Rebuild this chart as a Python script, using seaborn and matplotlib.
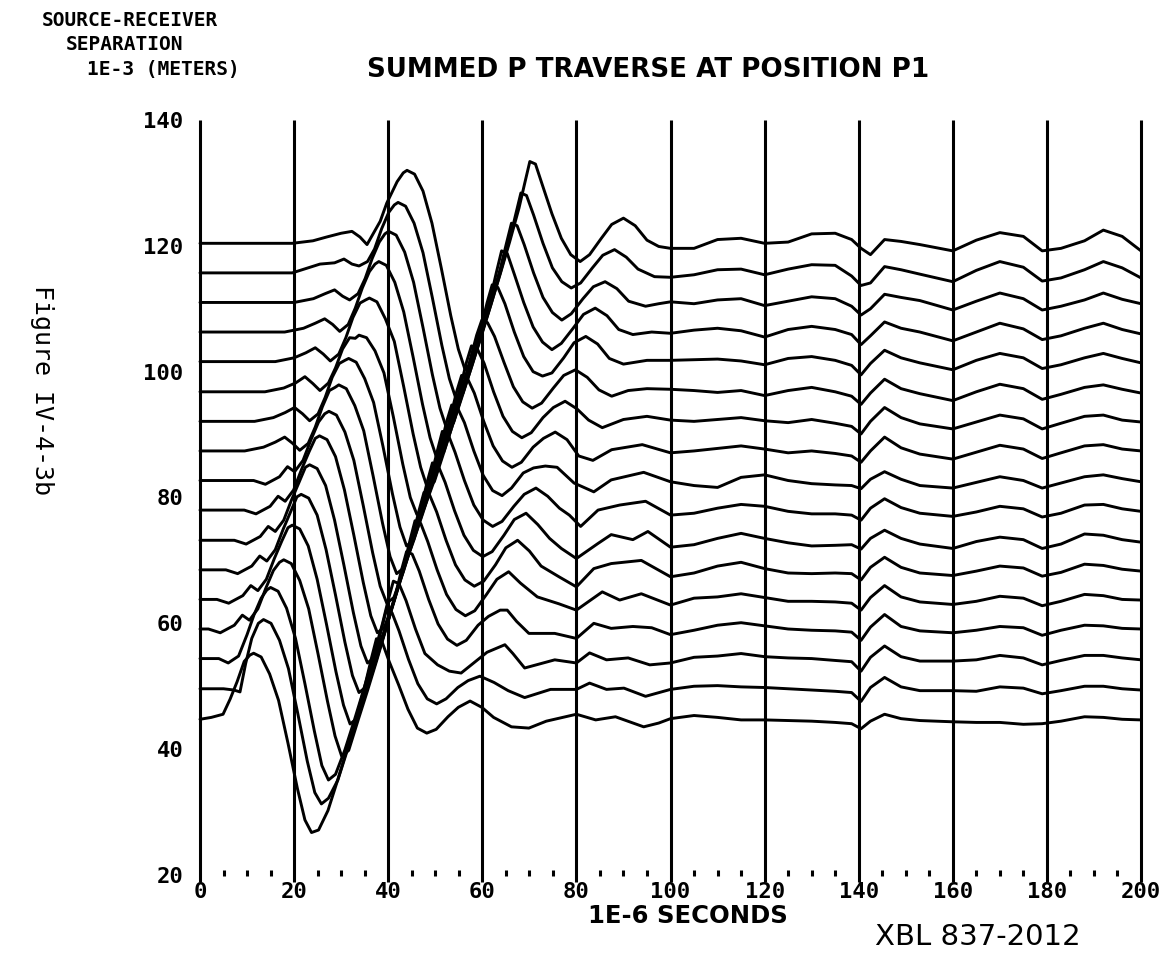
import numpy as np
import pandas as pd
import seaborn as sns
import matplotlib.pyplot as plt

# ---------------- data ----------------
separations = [44.75, 49.6, 54.4, 59.1, 63.8, 68.5, 73.2, 78.0, 82.7,
               87.4, 92.1, 96.8, 101.6, 106.3, 111.0, 115.7, 120.4]

# early part of every trace: (time in 1E-6 s, deflection from its separation line)
trace_01 = [(0,0),(2.4,0.3),(4.9,0.8),(6.4,3.2),(7.9,6.0),(9.4,9.2),(10.6,10.2),(11.4,10.5),(13.0,9.9),(14.8,7.2),(16.7,3.0),(18.7,-3.8),(20.7,-11.0),(22.3,-16.0),(23.7,-18.0),(25.2,-17.6),(27.2,-14.5),(29.2,-9.8),(31.2,-4.9),(33.2,0.2),(35.2,5.8),(36.4,9.6),(37.5,12.8),(38.7,12.3),(40.2,9.2),(42.2,5.5),(44.2,1.6),(46.2,-1.4),(48.2,-2.2),(50.2,-1.6),(52.7,0.4),(54.9,1.9),(57.4,2.9),(59.9,1.9),(62.4,0.3),(66.2,-1.2),(69.9,-1.4),(73.6,-0.3),(80.0,0.8),(84.1,-0.1),(88.3,0.4),(94.3,-1.2),(97.5,-0.6)]
trace_02 = [(0,0),(5,0),(7.2,-0.2),(8.5,-0.5),(9.7,4.0),(11.0,8.0),(12.4,10.4),(13.5,11.0),(15.1,10.4),(16.9,7.7),(18.8,3.2),(20.8,-4.0),(22.8,-11.5),(24.4,-16.5),(25.8,-18.3),(27.3,-17.4),(29.3,-14.5),(31.3,-9.8),(33.3,-4.9),(35.3,0.2),(37.3,5.6),(38.5,9.3),(39.6,12.5),(40.8,12.1),(42.3,9.2),(44.3,4.7),(46.3,0.8),(48.3,-1.6),(50.3,-2.4),(52.3,-1.6),(54.8,0.2),(57.0,1.3),(59.5,2.0),(62.5,1.0),(65.5,-0.3),(69.0,-1.4),(74.5,-0.1),(80.0,-0.1),(82.8,0.9),(86.4,-0.1),(90.1,0.1),(94.7,-1.2)]
trace_03 = [(0,0),(4,0),(6.0,-0.7),(8.2,0.4),(10.0,3.8),(11.5,7.0),(13.0,9.6),(14.2,10.9),(15.0,11.3),(16.6,10.7),(18.4,8.0),(20.3,3.2),(22.3,-4.0),(24.3,-11.5),(25.9,-17.0),(27.3,-19.3),(28.8,-18.4),(30.8,-14.5),(32.8,-9.8),(34.8,-4.9),(36.8,0.2),(38.8,5.6),(40.0,9.3),(41.1,12.3),(42.3,11.9),(43.8,9.2),(45.8,4.7),(47.8,0.8),(50.5,-1.0),(53.0,-2.0),(55.5,-2.3),(58.0,-0.8),(61.0,1.0),(64.8,2.2),(66.5,0.8),(69.0,-1.5),(75.4,-0.2),(80.0,-0.7),(82.8,0.9),(86.4,-0.2),(91.0,0.1),(95.6,-1.0)]
trace_04 = [(0,0),(1.8,0),(4.3,-0.6),(7.3,0.6),(9.0,2.2),(10.5,1.4),(12.3,3.2),(14.0,6.5),(15.6,9.3),(16.9,10.6),(17.8,11.0),(19.4,10.4),(21.2,7.7),(23.1,3.2),(25.1,-4.0),(27.1,-11.5),(28.7,-17.0),(30.1,-20.2),(31.6,-19.3),(33.6,-14.5),(35.6,-9.8),(37.6,-4.9),(39.6,0.2),(41.6,5.6),(42.8,9.3),(43.9,12.3),(45.1,11.9),(46.6,9.2),(48.6,4.7),(50.6,0.8),(52.6,-1.6),(54.6,-2.6),(56.6,-1.8),(59.1,0.6),(61.3,2.0),(63.8,3.0),(65.3,3.0),(67.3,1.2),(69.9,-0.7),(75.4,-0.7),(80.0,-1.5),(83.7,0.9),(87.4,0.1),(92.0,0.4),(96.0,0.2)]
trace_05 = [(0,0),(3.6,0),(6.1,-0.6),(9.1,0.6),(10.8,2.2),(12.3,1.4),(14.1,3.2),(15.8,6.5),(17.4,9.3),(18.7,11.4),(19.6,11.8),(21.2,11.2),(23.0,8.5),(24.9,3.2),(26.9,-4.0),(28.9,-11.5),(30.5,-16.8),(31.9,-19.8),(33.4,-18.9),(35.4,-14.5),(37.4,-9.8),(39.4,-4.9),(41.4,0.2),(43.4,5.6),(44.6,9.3),(45.7,12.5),(46.9,12.1),(48.4,9.2),(50.4,4.7),(52.4,0.8),(54.4,-1.6),(56.4,-2.6),(58.4,-1.8),(60.9,0.8),(63.1,3.2),(65.6,4.4),(68.1,2.6),(71.7,0.4),(76.3,-0.7),(80.0,-1.7),(85.5,1.2),(89.2,-0.1),(93.8,0.9)]
trace_06 = [(0,0),(5.5,0),(8.0,-0.6),(11.0,0.6),(12.7,2.2),(14.2,1.4),(16.0,3.2),(17.7,6.5),(19.3,9.3),(20.6,11.6),(21.5,12.0),(23.1,11.4),(24.9,8.7),(26.8,3.2),(28.8,-4.0),(30.8,-11.5),(32.4,-16.8),(33.8,-19.5),(35.3,-18.6),(37.3,-14.5),(39.3,-9.8),(41.3,-4.9),(43.3,0.2),(45.3,5.6),(46.5,9.3),(47.6,12.3),(48.8,11.9),(50.3,9.2),(52.3,4.7),(54.3,0.8),(56.3,-1.6),(58.3,-2.6),(60.3,-1.8),(62.8,0.8),(65.0,3.5),(67.5,4.7),(70.0,3.0),(72.5,0.6),(76.3,-1.1),(80.0,-2.7),(83.7,0.2),(87.4,1.0),(93.8,1.5)]
trace_07 = [(0,0),(7.3,0),(9.8,-0.6),(12.8,0.6),(14.5,2.2),(16.0,1.4),(17.8,3.2),(19.5,6.5),(21.1,9.3),(22.4,11.6),(23.3,12.0),(24.9,11.4),(26.7,8.7),(28.6,3.2),(30.6,-4.0),(32.6,-11.5),(34.2,-16.8),(35.6,-19.5),(37.1,-18.6),(39.1,-14.5),(41.1,-9.8),(43.1,-4.9),(45.1,0.2),(47.1,5.6),(48.3,9.3),(49.4,12.3),(50.6,11.9),(52.1,9.2),(54.1,4.7),(56.1,0.8),(58.1,-1.6),(60.1,-2.6),(62.1,-1.8),(64.6,0.8),(66.8,3.3),(69.3,4.3),(71.8,2.5),(74.3,0.3),(76.8,-1.3),(80.0,-2.9),(84.6,-0.5),(87.4,0.9),(92.0,0.1),(95.2,1.4)]
trace_08 = [(0,0),(9.4,0),(11.9,-0.6),(14.9,0.6),(16.6,2.2),(18.1,1.4),(19.9,3.2),(21.6,6.5),(23.2,9.3),(24.5,11.4),(25.4,11.8),(27.0,11.2),(28.8,8.5),(30.7,3.2),(32.7,-4.0),(34.7,-11.5),(36.3,-16.8),(37.7,-19.5),(39.2,-18.6),(41.2,-14.5),(43.2,-9.8),(45.2,-4.9),(47.2,0.2),(49.2,5.6),(50.4,9.3),(51.5,12.5),(52.7,12.1),(54.2,9.2),(56.2,4.7),(58.2,0.8),(60.2,-1.6),(62.2,-2.6),(64.2,-1.8),(66.7,0.6),(68.9,2.5),(71.4,3.5),(73.9,2.2),(76.4,0.3),(78.5,-0.8),(80.9,-2.6),(84.6,0.0),(89.2,0.8),(94.7,1.4)]
trace_09 = [(0,0),(11.4,0),(13.9,-0.6),(16.9,0.6),(18.6,2.2),(20.1,1.4),(21.9,3.2),(23.6,6.5),(25.2,9.3),(26.5,10.6),(27.4,11.0),(29.0,10.4),(30.8,7.7),(32.7,3.2),(34.7,-4.0),(36.7,-11.5),(38.3,-16.8),(39.7,-19.5),(41.2,-18.6),(43.2,-14.5),(45.2,-9.8),(47.2,-4.9),(49.2,0.2),(51.2,5.6),(52.4,9.3),(53.5,12.0),(54.7,11.6),(56.2,9.2),(58.2,4.7),(60.2,0.8),(62.2,-1.6),(64.2,-2.4),(66.2,-1.2),(68.7,1.2),(70.9,2.0),(73.4,2.3),(75.9,2.1),(79.5,-0.4),(83.7,-1.8),(87.4,0.1),(94.3,1.3)]
trace_10 = [(0,0),(9.5,0),(13.5,0.6),(16.0,1.4),(18.0,2.2),(19.7,1.2),(21.2,0.1),(23.0,1.2),(24.5,3.8),(26.0,7.0),(27.5,9.6),(28.7,10.1),(29.5,10.5),(31.1,9.9),(32.9,7.2),(34.8,3.2),(36.8,-4.0),(38.8,-11.5),(40.4,-16.8),(41.8,-19.5),(43.3,-18.6),(45.3,-14.5),(47.3,-9.8),(49.3,-4.9),(51.3,0.2),(53.3,5.6),(54.5,9.3),(55.6,12.0),(56.8,11.6),(58.3,9.2),(60.3,4.7),(62.3,0.8),(64.3,-1.6),(66.3,-2.6),(68.3,-1.8),(70.8,0.6),(73.0,2.0),(75.5,3.0),(78.0,1.8),(80.5,-0.8),(83.5,-1.5),(87.5,0.2),(94.0,1.0)]
trace_11 = [(0,0),(11.6,0),(15.6,0.6),(18.1,1.4),(20.1,2.2),(21.8,1.2),(23.3,0.1),(25.1,1.2),(26.6,3.8),(28.1,7.0),(29.6,9.2),(30.8,9.7),(31.6,10.0),(33.2,9.4),(35.0,6.8),(36.9,3.0),(38.9,-4.0),(40.9,-11.5),(42.5,-16.8),(43.9,-19.8),(45.4,-18.9),(47.4,-14.5),(49.4,-9.8),(51.4,-4.9),(53.4,0.2),(55.4,5.6),(56.6,9.3),(57.7,12.0),(58.9,11.6),(60.4,9.2),(62.4,4.7),(64.4,0.8),(66.4,-1.6),(68.4,-2.6),(70.4,-1.8),(72.9,0.6),(75.1,2.2),(77.6,3.2),(80.1,2.0),(82.6,0.2),(85.5,-1.0),(90.0,0.3),(95.0,0.8)]
trace_12 = [(0,0),(13.8,0),(17.8,0.6),(20.3,1.4),(22.3,2.4),(24.0,1.3),(25.5,0.2),(27.3,1.4),(28.8,3.8),(30.3,6.8),(31.8,8.6),(33.0,8.5),(33.8,9.0),(35.4,8.6),(37.2,6.5),(39.1,3.0),(41.1,-4.0),(43.1,-11.5),(44.7,-16.8),(46.1,-19.5),(47.6,-18.6),(49.6,-14.5),(51.6,-9.8),(53.6,-4.9),(55.6,0.2),(57.6,5.6),(58.8,9.0),(59.9,11.4),(61.1,11.0),(62.6,8.8),(64.6,4.7),(66.6,0.8),(68.6,-1.6),(70.6,-2.6),(72.6,-1.8),(75.1,0.6),(77.3,2.6),(79.8,3.5),(82.3,2.3),(84.8,0.3),(87.5,-0.7),(91.0,0.2),(95.0,0.5)]
trace_13 = [(0,0),(16.0,0),(20.0,0.6),(22.5,1.4),(24.5,2.2),(26.2,1.2),(27.7,0.1),(29.5,1.2),(31.0,3.8),(32.5,7.0),(34.0,9.3),(35.2,9.8),(36.0,10.1),(37.6,9.5),(39.4,6.8),(41.3,3.2),(43.3,-4.0),(45.3,-11.5),(46.9,-16.8),(48.3,-20.0),(49.8,-19.1),(51.8,-14.5),(53.8,-9.8),(55.8,-4.9),(57.8,0.2),(59.8,5.6),(61.0,9.3),(62.1,12.2),(63.3,11.8),(64.8,9.2),(66.8,4.7),(68.8,0.8),(70.8,-1.6),(72.8,-2.3),(74.8,-1.8),(77.3,0.6),(79.5,3.0),(82.0,4.0),(84.5,2.8),(87.0,0.5),(90.0,-0.4),(95.0,0.2)]
trace_14 = [(0,0),(18.0,0),(22.0,0.6),(24.5,1.4),(26.5,2.1),(28.2,1.2),(29.7,0.1),(31.5,1.2),(33.0,3.8),(34.5,7.0),(36.0,9.6),(37.2,10.8),(38.0,11.2),(39.6,10.6),(41.4,7.9),(43.3,3.2),(45.3,-4.0),(47.3,-11.5),(48.9,-16.8),(50.3,-20.0),(51.8,-19.1),(53.8,-14.5),(55.8,-9.8),(57.8,-4.9),(59.8,0.2),(61.8,5.6),(63.0,9.5),(64.1,12.9),(65.3,12.5),(66.8,9.2),(68.8,4.7),(70.8,0.8),(72.8,-1.6),(74.8,-2.8),(76.8,-1.8),(79.3,0.6),(81.5,2.8),(84.0,3.8),(86.5,2.6),(89.0,0.4),(92.0,-0.4),(96.0,0.0)]
trace_15 = [(0,0),(20.0,0),(24.1,0.6),(26.6,1.4),(28.6,2.0),(30.3,1.0),(31.8,0.4),(33.6,1.4),(35.1,3.8),(36.6,7.0),(38.1,9.6),(39.3,10.9),(40.1,11.3),(41.7,10.7),(43.5,8.0),(45.4,3.2),(47.4,-4.0),(49.4,-11.5),(51.0,-16.8),(52.4,-20.0),(53.9,-19.1),(55.9,-14.5),(57.9,-9.8),(59.9,-4.9),(61.9,0.2),(63.9,5.6),(65.1,9.3),(66.2,12.6),(67.4,12.2),(68.9,9.2),(70.9,4.7),(72.9,0.8),(74.9,-1.6),(76.9,-2.8),(78.9,-1.8),(81.4,0.6),(83.6,2.5),(86.1,3.3),(88.6,2.2),(91.1,0.2),(94.7,-0.6),(97.5,-0.2)]
trace_16 = [(0,0),(19.6,0),(25.5,1.4),(28.6,1.6),(30.6,2.2),(32.3,1.4),(33.8,1.1),(35.6,1.8),(37.1,3.8),(38.6,7.0),(40.1,9.6),(41.3,10.8),(42.1,11.2),(43.7,10.6),(45.5,7.9),(47.4,3.2),(49.4,-4.0),(51.4,-11.5),(53.0,-16.8),(54.4,-20.0),(55.9,-19.1),(57.9,-14.5),(59.9,-9.8),(61.9,-4.9),(63.9,0.2),(65.9,5.6),(67.1,9.3),(68.2,12.7),(69.4,12.3),(70.9,9.2),(72.9,4.7),(74.9,0.8),(76.9,-1.4),(78.9,-2.4),(80.9,-1.6),(83.4,0.8),(85.6,2.8),(88.1,3.7),(90.6,2.5),(93.1,0.6),(96.6,-0.6)]
trace_17 = [(0,0),(19.6,0),(24.0,0.4),(26.9,1.0),(30.0,1.6),(32.3,1.9),(34.0,1.0),(35.5,-0.2),(38.3,3.5),(39.7,6.4),(41.9,9.8),(43.2,11.2),(44.0,11.6),(45.6,11.0),(47.4,8.3),(49.3,3.2),(51.3,-4.0),(53.3,-11.5),(54.9,-16.8),(56.3,-20.0),(57.8,-19.1),(59.8,-14.5),(61.8,-9.8),(63.8,-4.9),(65.8,0.2),(67.8,5.6),(69.0,9.5),(70.1,13.0),(71.3,12.6),(72.8,9.2),(74.8,4.7),(76.8,0.8),(78.8,-1.8),(80.8,-2.9),(82.8,-1.8),(85.3,0.8),(87.5,3.0),(90.0,4.0),(92.5,2.8),(95.0,0.5),(97.5,-0.5)]

# late part of every trace, sampled at common times
late_t = [100, 105, 110, 115, 120, 125, 130, 135, 138.5, 140.5, 142.5, 145.5,
          149, 153, 160, 165, 170, 175, 179, 183, 188, 192, 196, 200]
late_01 = [0.1, 0.6, 0.3, -0.1, -0.1, -0.2, -0.3, -0.5, -0.7, -1.5, -0.3, 0.8, 0.1, -0.2, -0.4, -0.5, -0.5, -0.8, -0.7, -0.3, 0.4, 0.3, 0.0, -0.1]
late_02 = [-0.1, 0.4, 0.5, 0.3, 0.2, 0.0, -0.2, -0.4, -0.6, -2.0, 0.2, 1.8, 0.3, -0.3, -0.3, -0.4, 0.3, 0.1, -0.8, -0.3, 0.4, 0.4, 0.0, -0.2]
late_03 = [-0.7, 0.2, 0.4, 0.8, 0.3, 0.1, 0.0, -0.3, -0.5, -2.0, 0.2, 2.0, 0.3, -0.4, -0.4, -0.2, 0.5, 0.1, -1.0, -0.3, 0.5, 0.5, 0.1, -0.2]
late_04 = [-0.9, -0.2, 0.6, 1.0, 0.5, 0.0, -0.2, -0.3, -0.5, -1.8, 0.3, 2.3, 0.4, -0.3, -0.6, -0.2, 0.4, 0.2, -1.0, -0.2, 0.6, 0.5, 0.1, 0.0]
late_05 = [-0.9, 0.2, 0.4, 0.9, 0.3, -0.3, -0.3, -0.4, -0.6, -1.7, 0.3, 2.2, 0.4, -0.4, -0.8, -0.3, 0.5, 0.2, -1.0, -0.3, 0.8, 0.6, 0.0, -0.1]
late_06 = [-1.1, -0.5, 0.6, 1.2, 0.2, -0.5, -0.6, -0.5, -0.6, -1.6, 0.4, 2.0, 0.4, -0.5, -0.9, -0.2, 0.6, 0.3, -1.0, -0.4, 0.9, 0.7, 0.1, -0.2]
late_07 = [-1.1, -0.7, 0.3, 1.1, 0.3, -0.4, -0.9, -0.8, -0.7, -1.4, 0.3, 1.6, 0.3, -0.6, -1.3, -0.2, 0.5, 0.1, -1.3, -0.6, 1.0, 0.8, 0.1, -0.3]
late_08 = [-0.8, -0.5, 0.3, 0.9, 0.6, -0.2, -0.6, -0.6, -0.8, -1.6, 0.3, 1.8, 0.4, -0.5, -1.0, -0.3, 0.6, 0.2, -1.1, -0.5, 0.8, 0.9, 0.2, -0.2]
late_09 = [-0.2, -0.8, -1.1, 0.5, 0.9, 0.0, -0.5, -0.7, -0.8, -1.3, 0.2, 1.4, 0.2, -0.8, -1.2, -0.3, 0.6, 0.0, -1.2, -0.4, 0.6, 0.9, 0.3, -0.2]
late_10 = [-0.3, 0.0, 0.4, 0.8, 0.3, -0.3, 0.0, -0.4, -0.8, -1.8, 0.0, 2.2, 0.5, -0.5, -1.3, -0.2, 0.9, 0.3, -1.2, -0.3, 0.8, 1.0, 0.3, 0.0]
late_11 = [0.2, 0.0, 0.3, 0.6, 0.1, -0.2, 0.3, -0.3, -0.8, -2.0, 0.0, 2.2, 0.6, -0.4, -1.2, -0.1, 1.0, 0.4, -1.2, -0.3, 0.8, 1.0, 0.2, -0.1]
late_12 = [0.4, 0.2, -0.1, 0.2, -0.6, 0.2, 0.7, 0.0, -0.7, -2.0, -0.2, 2.0, 0.5, -0.3, -1.4, 0.0, 1.2, 0.5, -1.2, -0.4, 0.7, 1.1, 0.4, -0.2]
late_13 = [0.2, 0.3, 0.4, 0.1, -0.5, 0.5, 0.8, 0.2, -0.6, -2.1, -0.3, 1.8, 0.6, -0.2, -1.3, 0.2, 1.3, 0.6, -1.1, -0.5, 0.6, 1.3, 0.5, -0.2]
late_14 = [-0.2, 0.3, 0.6, 0.2, -0.8, 0.4, 0.9, 0.4, -0.4, -2.0, -0.6, 1.6, 0.6, 0.0, -1.4, 0.0, 1.4, 0.5, -1.2, -0.6, 0.6, 1.4, 0.4, -0.3]
late_15 = [0.1, -0.2, 0.4, 0.6, -0.5, 0.2, 0.9, 0.6, -0.6, -2.0, -1.0, 1.3, 0.8, 0.3, -1.2, 0.2, 1.5, 0.6, -1.2, -0.6, 0.4, 1.5, 0.5, -0.2]
late_16 = [-0.7, -0.3, 0.5, 0.6, -0.3, 0.6, 1.3, 1.2, -0.5, -2.0, -1.6, 1.0, 0.5, -0.2, -1.4, 0.4, 1.8, 0.9, -1.3, -0.8, 0.5, 1.8, 0.8, -0.8]
late_17 = [-0.8, -0.8, 0.6, 0.8, 0.0, 0.2, 1.5, 1.6, 0.6, -0.8, -1.8, 0.6, 0.3, -0.2, -1.2, 0.5, 1.7, 1.1, -1.2, -0.8, 0.4, 2.1, 1.1, -1.2]

early_parts = [trace_01, trace_02, trace_03, trace_04, trace_05, trace_06, trace_07, trace_08, trace_09,
               trace_10, trace_11, trace_12, trace_13, trace_14, trace_15, trace_16, trace_17]
late_parts = [late_01, late_02, late_03, late_04, late_05, late_06, late_07, late_08, late_09,
              late_10, late_11, late_12, late_13, late_14, late_15, late_16, late_17]

x_ticks = [0, 20, 40, 60, 80, 100, 120, 140, 160, 180, 200]
x_minor = [v for v in range(5, 200, 5) if v % 20 != 0]
y_ticks = [20, 40, 60, 80, 100, 120, 140]

# ---------------- build table ----------------
rows = []
for i, (sep, early, late) in enumerate(zip(separations, early_parts, late_parts)):
    pts = list(early) + list(zip(late_t, late))
    for order, (t, a) in enumerate(pts):
        rows.append({"trace": i, "order": order, "time": t, "value": sep + a})
df = pd.DataFrame(rows)

# ---------------- plot ----------------
sns.set_theme(style="white")
plt.rcParams['font.family'] = ['DejaVu Sans']
plt.rcParams['text.color'] = 'black'

W, H = 1166, 964
fig = plt.figure(figsize=(W / 100, H / 100), dpi=100)
fig.patch.set_facecolor("white")
ax = fig.add_axes([200 / W, (H - 875) / H, 941 / W, 755 / H])
ax.set_facecolor("white")

sns.lineplot(data=df, x="time", y="value", units="trace", estimator=None, sort=False,
             color="black", linewidth=2.1, ax=ax, legend=False)
for ln in ax.lines:
    ln.set_clip_on(False)
    ln.set_solid_joinstyle("round")

ax.vlines(x_ticks, 18.9, 140, colors="black", linewidth=2.2, clip_on=False)
ax.plot(x_minor, [20.3] * len(x_minor), ls="none", marker="|", ms=5, mew=2.2,
        color="black", clip_on=False)

ax.set_xlim(0, 200)
ax.set_ylim(20, 140)
for s in ax.spines.values():
    s.set_visible(False)
ax.grid(False)

plot_font = dict(family="DejaVu Sans Mono", weight="bold", size=16, color="black")
ax.set_xticks(x_ticks)
ax.set_xticklabels([str(v) for v in x_ticks], fontdict=plot_font)
ax.set_yticks(y_ticks)
ax.set_yticklabels([str(v) for v in y_ticks], fontdict=plot_font)
ax.tick_params(axis="x", length=0, pad=5, colors="black")
ax.tick_params(axis="y", length=0, pad=12, colors="black")
ax.set_xlabel("")
ax.set_ylabel("")

def fx(px):
    return px / W

def fy(py):
    return 1 - py / H

label_font = dict(family="DejaVu Sans Mono", weight="bold", size=14, color="black")
fig.text(fx(42), fy(20), "SOURCE-RECEIVER", ha="left", va="center", **label_font)
fig.text(fx(66), fy(45), "SEPARATION", ha="left", va="center", **label_font)
fig.text(fx(87), fy(70), "1E-3 (METERS)", ha="left", va="center", **label_font)
fig.text(fx(648), fy(70), "SUMMED P TRAVERSE AT POSITION P1", ha="center", va="center",
         family="DejaVu Sans", weight="bold", size=18.8, color="black")
fig.text(fx(688), fy(916), "1E-6 SECONDS", ha="center", va="center",
         family="DejaVu Sans", weight="bold", size=17.5, color="black")
fig.text(fx(978), fy(937), "XBL 837-2012", ha="center", va="center",
         family=["Liberation Sans Narrow", "DejaVu Sans"], size=21, color="black")
fig.text(fx(42), fy(390), "Figure IV-4-3b", ha="center", va="center", rotation=-90,
         family="DejaVu Sans Mono", size=18, color="black")

fig.savefig("out.png", dpi=100, facecolor="white")
